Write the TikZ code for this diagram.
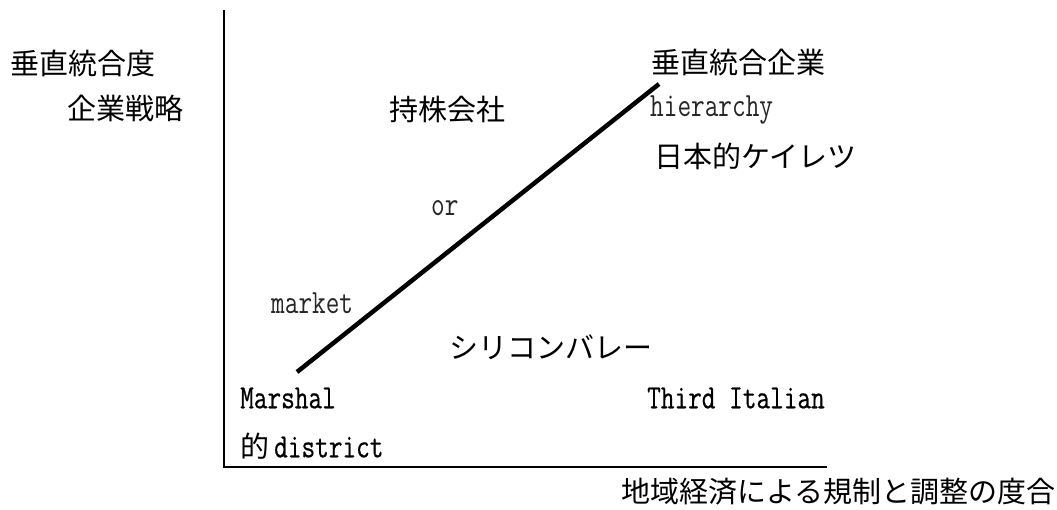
\documentclass[tikz,border=0pt]{standalone}
\usepackage{fontspec}
\newfontfamily\jpfont{Noto Sans CJK JP}
\newfontfamily\latmono[FakeStretch=0.78,FakeBold=0.5]{Latin Modern Mono}
\newfontfamily\latthin[FakeStretch=0.78]{Latin Modern Mono}
\begin{document}
\begin{tikzpicture}[x=1pt,y=-1pt,
  jp/.style={inner sep=0pt,anchor=west,font=\jpfont\fontsize{29}{29}\selectfont},
  lat/.style={inner sep=0pt,anchor=west,font=\latmono\fontsize{34}{34}\selectfont},
  thin/.style={inner sep=0pt,anchor=west,font=\latthin\fontsize{34}{34}\selectfont,text=black!85},
  axis/.style={line width=2.5pt},
  trend/.style={line width=4.5pt}]
\useasboundingbox (0,0) rectangle (1057,509);
\fill[white] (0,0) rectangle (1057,509);
\coordinate (top) at (224,10);
\coordinate (origin) at (224,467);
\coordinate (xend) at (827,467);
\draw[axis] (top) -- (origin) -- (xend);
\coordinate (ls) at (297,372);
\coordinate (le) at (659,84);
\draw[trend] (ls) -- (le);
\node[jp] (ylab1) at (10,63) {垂直統合度};
\node[jp] (ylab2) at (67,108) {企業戦略};
\node[jp] (hold) at (389,110) {持株会社};
\node[jp] (vie) at (651,62) {垂直統合企業};
\node[thin] (hier) at (650,110) {hierarchy};
\node[jp] (kei) at (654,156) {日本的ケイレツ};
\node[thin] (or) at (431,208) {or};
\node[thin] (mkt) at (271,303) {market};
\node[jp] (sv) at (449,347) {シリコンバレー};
\node[lat] (mar) at (240,398) {Marshal};
\node[lat] (ti) at (647,398) {Third Italian};
\node[inner sep=0pt,anchor=west] (dist) at (240,446) {{\jpfont\fontsize{29}{29}\selectfont 的}\hspace{5pt}{\latmono\fontsize{34}{34}\selectfont district}};
\node[jp,anchor=east] (xlab) at (1056,492) {地域経済による規制と調整の度合};
\end{tikzpicture}
\end{document}
